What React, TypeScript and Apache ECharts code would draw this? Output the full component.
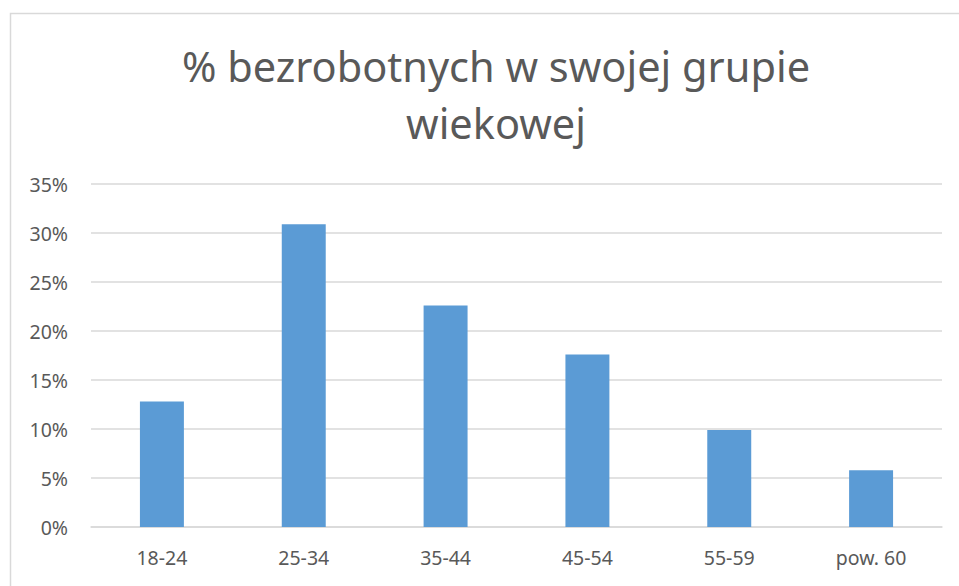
import React, { useEffect, useRef } from "react";
import * as echarts from "echarts";

const categories = ["18-24", "25-34", "35-44", "45-54", "55-59", "pow. 60"];
const values = [12.8, 30.9, 22.6, 17.6, 9.9, 5.8];
const titleLines = ["% bezrobotnych w swojej grupie", "wiekowej"];

export default function App() {
  const ref = useRef<HTMLDivElement>(null);
  useEffect(() => {
    if (!ref.current) return;
    const chart = echarts.init(ref.current, null, { renderer: "svg" });
    chart.setOption({
      animation: false,
      backgroundColor: "#ffffff",
      title: {
        text: titleLines.join("\n"),
        left: 491,
        top: 32,
        textAlign: "center",
        textStyle: {
          fontFamily: "Noto Sans",
          fontSize: 41.5,
          fontWeight: "normal",
          color: "#595959",
          lineHeight: 57,
        },
      },
      graphic: [
        {
          type: "rect",
          shape: { x: 10.5, y: 13.5, width: 1000, height: 1000 },
          style: { fill: "none", stroke: "#d9d9d9", lineWidth: 1.5 },
          silent: true,
          z: -1,
        },
      ],
      grid: { left: 91, right: 17, top: 184, bottom: 59, containLabel: false },
      xAxis: {
        type: "category",
        data: categories,
        axisLine: { show: true, lineStyle: { color: "#d9d9d9", width: 1.5 } },
        axisTick: { show: false },
        axisLabel: {
          color: "#595959",
          fontFamily: "Noto Sans",
          fontSize: 19.5,
          margin: 20,
        },
      },
      yAxis: {
        type: "value",
        min: 0,
        max: 35,
        interval: 5,
        axisLine: { show: false },
        axisTick: { show: false },
        splitLine: { lineStyle: { color: "#d9d9d9", width: 1.5 } },
        axisLabel: {
          color: "#595959",
          fontFamily: "Noto Sans",
          fontSize: 19.5,
          margin: 23,
          formatter: (v: number) => v + "%",
        },
      },
      series: [
        {
          type: "bar",
          data: values,
          barWidth: "31%",
          itemStyle: { color: "#5b9bd5" },
        },
      ],
    });
    return () => chart.dispose();
  }, []);
  return (
    <div
      ref={ref}
      style={{ position: "fixed", left: 0, top: 0, width: 959, height: 586 }}
    />
  );
}
